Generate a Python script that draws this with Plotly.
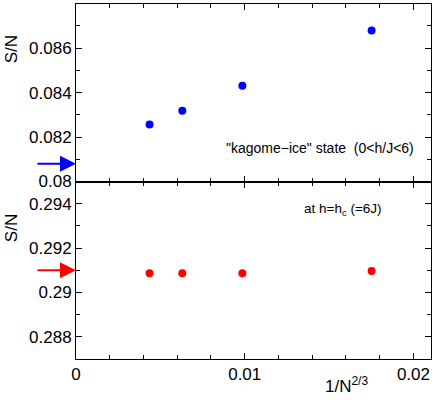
import plotly.graph_objects as go

# Dados
inv_n23 = [0.00436, 0.0063, 0.00986, 0.01752]
s_kagome = [0.08257, 0.08318, 0.08431, 0.0868]
s_hc = [0.29086, 0.29086, 0.29086, 0.29097]

# Valores extrapolados (setas no eixo)
s_kagome_lim = 0.0808
s_hc_lim = 0.291

FONTE = "Liberation Sans, Arial, Helvetica, sans-serif"
PRETO = "#000000"


def _eixo(**extra) -> dict:
    base = {
        "showline": True,
        "linecolor": PRETO,
        "linewidth": 1,
        "mirror": "allticks",
        "ticks": "inside",
        "ticklen": 6,
        "tickwidth": 1,
        "tickcolor": PRETO,
        "showgrid": False,
        "zeroline": False,
        "automargin": False,
        "tickfont": {"size": 17, "color": PRETO},
    }
    base.update(extra)
    return base


fig = go.Figure()

fig.add_trace(
    go.Scatter(
        x=inv_n23,
        y=s_kagome,
        mode="markers",
        marker={"color": "#0000ff", "size": 8},
        xaxis="x2",
        yaxis="y",
    )
)
fig.add_trace(
    go.Scatter(
        x=inv_n23,
        y=s_hc,
        mode="markers",
        marker={"color": "#ff0000", "size": 8},
        xaxis="x",
        yaxis="y2",
    )
)

menor_x = {"dtick": 0.002, "tick0": 0, "ticks": "inside", "ticklen": 4, "tickcolor": PRETO}
menor_y = {"dtick": 0.001, "tick0": 0, "ticks": "inside", "ticklen": 4, "tickcolor": PRETO}

fig.update_layout(
    width=436,
    height=409,
    paper_bgcolor="white",
    plot_bgcolor="white",
    font={"family": FONTE, "color": PRETO},
    margin={"l": 76, "r": 5, "t": 4, "b": 50, "autoexpand": False},
    showlegend=False,
    xaxis=_eixo(
        domain=[0, 1], anchor="y2", range=[0, 0.02104],
        tick0=0, dtick=0.01, minor=menor_x,
    ),
    xaxis2=_eixo(
        domain=[0, 1], anchor="y", matches="x", range=[0, 0.02104],
        tick0=0, dtick=0.01, minor=menor_x, showticklabels=False,
    ),
    yaxis=_eixo(
        domain=[0.5, 1], anchor="x2", range=[0.08, 0.08799],
        tick0=0, dtick=0.002, minor=menor_y,
    ),
    yaxis2=_eixo(
        domain=[0, 0.5], anchor="x", range=[0.287, 0.295],
        tick0=0, dtick=0.002, minor=menor_y,
    ),
)

# Setas indicando os valores extrapolados
for y, yref, cor in [(s_kagome_lim, "y", "#0000ff"), (s_hc_lim, "y2", "#ff0000")]:
    fig.add_annotation(
        x=0, y=y, xref="x", yref=yref,
        ax=-40, ay=0, axref="pixel", ayref="pixel",
        showarrow=True, arrowhead=2, arrowsize=1.6, arrowwidth=2,
        arrowcolor=cor, text="",
    )

# Titulos dos eixos
for y in [0.874, 0.370]:
    fig.add_annotation(
        text="S/N", xref="paper", yref="paper", x=-0.1817, y=y,
        xanchor="center", yanchor="middle",
        textangle=-90, showarrow=False, font={"size": 17},
    )
fig.add_annotation(
    text="1/N<sup>2/3</sup>", xref="paper", yref="paper", x=0.762, y=-0.0724,
    xanchor="center", yanchor="middle",
    showarrow=False, font={"size": 17},
)

# Rotulos dentro dos paineis
fig.add_annotation(
    text="\"kagome\u2212ice\" state&nbsp;&nbsp;(0&lt;h/J&lt;6)",
    xref="x2", yref="y", x=0.01445, y=0.08152,
    showarrow=False, font={"size": 14},
)
fig.add_annotation(
    text="at h=h<sub>c</sub> (=6J)",
    xref="x", yref="y2", x=0.01585, y=0.29372,
    showarrow=False, font={"size": 13.5},
)

# remove a margem padrao do <body> para o grafico ocupar a janela toda
fig.write_html(
    "out.html",
    config={"displayModeBar": False},
    post_script="document.body.style.margin = '0';",
)
